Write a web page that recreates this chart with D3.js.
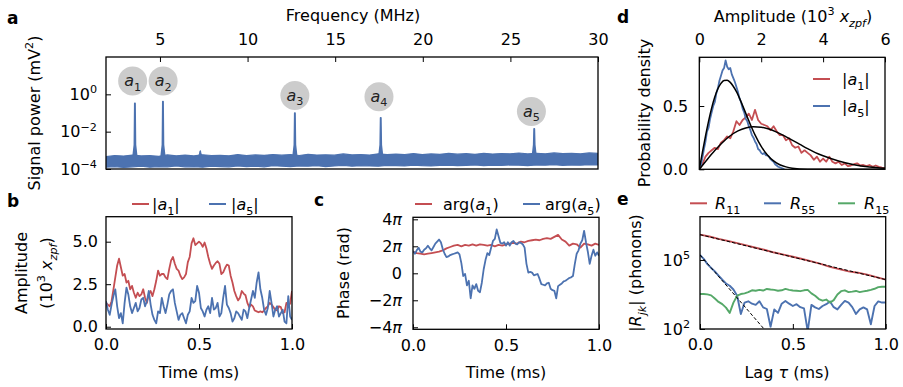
<!DOCTYPE html>
<html><head><meta charset="utf-8">
<script src="https://cdn.jsdelivr.net/npm/d3@7"></script>
<style>body{margin:0;background:#fff} text{font-family:"DejaVu Sans",sans-serif;}</style>
</head><body>
<svg id="fig" width="903" height="387" xmlns="http://www.w3.org/2000/svg"></svg>
<script>
// ---------------- DATA ----------------
// Panel a: spectrum
const freqTicks = [5, 10, 15, 20, 25, 30];
const noiseUpper = [4.6e-4,5.3e-4,4.9e-4,5.6e-4,5.0e-4,5.2e-4,4.8e-4,5.7e-4,5.1e-4,5.5e-4,
 5.0e-4,5.8e-4,5.3e-4,5.4e-4,5.1e-4,5.9e-4,5.2e-4,5.7e-4,5.4e-4,6.0e-4,
 5.5e-4,5.9e-4,5.3e-4,6.1e-4,5.6e-4,5.8e-4,5.5e-4,6.4e-4,5.7e-4,6.0e-4,
 5.6e-4,6.5e-4,5.9e-4,6.2e-4,6.0e-4,6.7e-4,5.9e-4,6.4e-4,6.1e-4,6.8e-4,
 6.2e-4,6.6e-4,6.1e-4,7.0e-4,6.3e-4,6.7e-4,6.5e-4,7.2e-4,6.4e-4,6.9e-4,
 6.5e-4,7.3e-4,6.6e-4,7.0e-4,6.5e-4,7.3e-4,6.8e-4];
const noiseLower = [1.25e-4,1.35e-4,1.2e-4,1.3e-4,1.4e-4,1.25e-4,1.35e-4,1.3e-4,1.45e-4,1.3e-4,
 1.35e-4,1.25e-4,1.4e-4,1.35e-4,1.3e-4,1.45e-4,1.35e-4,1.4e-4,1.3e-4,1.5e-4,
 1.4e-4,1.35e-4,1.45e-4,1.4e-4,1.5e-4,1.35e-4,1.45e-4,1.55e-4,1.4e-4,1.5e-4,
 1.45e-4,1.4e-4,1.55e-4,1.5e-4,1.45e-4,1.6e-4,1.5e-4,1.45e-4,1.55e-4,1.6e-4,
 1.5e-4,1.55e-4,1.65e-4,1.5e-4,1.6e-4,1.55e-4,1.65e-4,1.6e-4,1.5e-4,1.65e-4,
 1.6e-4,1.7e-4,1.55e-4,1.65e-4,1.6e-4,1.7e-4,1.65e-4];
const peakNames = ["1", "2", "3", "4", "5"];
const peakFreq = [3.57, 5.17, 12.7, 17.6, 26.36];
const peakPower = [0.33, 0.41, 0.10, 0.055, 0.0145];
const spurFreq = [7.3];
const spurPower = [9.5e-4];
const bubbleFreq = [3.44, 5.18, 12.7, 17.5, 26.2];
const bubblePower = [5.2, 5.2, 0.86, 0.75, 0.12];

// Panel b: amplitudes vs time (ms), 10^3 x_zpf
const ampA1 = [1.4,1.3,1.2,1.5,2.2,2.9,3.6,4.0,3.5,3.0,
 3.1,2.6,2.7,2.2,2.4,2.0,1.7,2.0,1.8,1.9,
 2.2,1.7,1.4,1.9,2.1,1.8,2.2,2.7,3.3,3.0,
 3.1,3.1,2.9,2.8,3.4,3.9,4.1,3.7,3.4,3.3,
 3.0,2.8,2.9,3.1,3.8,4.1,4.9,5.2,4.8,4.9,
 5.0,4.9,4.7,4.95,4.6,4.1,3.7,3.4,3.6,3.75,
 3.85,3.7,3.1,3.2,3.45,3.65,3.6,3.0,2.6,2.1,
 1.8,1.55,1.7,2.1,1.95,1.85,1.4,1.15,1.3,1.2,
 0.95,0.9,0.85,0.9,0.85,0.95,1.1,1.2,1.4,1.3,
 1.15,1.0,0.95,1.2,1.15,0.8,0.85,1.4,1.3,1.35,
 2.1];
const ampA5 = [1.5,1.0,0.7,1.3,1.8,2.2,1.2,0.5,0.8,0.2,
 1.4,2.3,1.9,1.2,0.8,1.1,1.4,0.9,1.1,1.6,
 1.7,1.2,1.5,2.1,1.3,0.7,0.4,0.2,0.9,0.8,
 1.7,1.2,0.8,1.3,1.9,2.1,2.2,1.4,0.9,0.4,
 0.7,0.8,0.5,0.2,0.7,0.9,1.7,1.4,1.5,2.4,
 2.0,1.1,0.9,0.6,1.0,1.2,0.8,1.7,1.0,1.1,
 1.4,0.6,0.8,1.7,2.4,1.3,1.1,0.8,0.3,0.5,
 0.9,0.8,0.6,0.4,1.0,0.9,0.5,1.1,1.6,2.1,
 1.7,2.6,3.2,2.2,1.7,1.0,0.7,1.1,2.1,1.4,
 0.6,1.0,1.2,0.6,0.8,1.0,0.3,0.2,1.8,0.6,
 0.4];

// Panel c: phases (units of pi)
const phaseA1 = [1.6,1.5,1.45,1.4,1.45,1.5,1.55,1.6,1.7,1.85,
 1.95,2.05,2.1,2.0,2.1,2.05,2.15,2.05,2.15,2.1,
 2.05,2.1,2.0,2.1,2.05,2.15,2.2,2.25,2.2,2.35,
 2.3,2.4,2.45,2.5,2.45,2.55,2.6,2.55,2.7,2.85,
 2.5,2.35,2.05,2.2,2.15,1.9,2.2,2.15,2.05,2.2,
 2.1];
const phaseA5 = [1.65,1.45,1.7,1.9,1.6,1.55,1.75,1.85,2.05,1.85,
 1.7,1.95,2.2,2.35,2.5,2.3,1.8,1.45,1.2,1.25,
 1.35,1.4,1.45,1.5,1.55,1.4,0.75,-0.2,-0.05,-0.9,
 -0.55,-1.85,-0.9,-1.15,-0.8,-1.3,-1.4,-0.7,0.3,1.0,
 1.5,1.35,1.9,2.4,2.55,3.25,2.75,2.25,2.2,2.3,
 2.05,2.3,2.05,2.3,2.4,2.2,2.15,2.3,2.25,2.15,
 1.9,0.7,0.05,0.1,0.05,-0.15,-0.1,-0.05,-0.4,-0.8,
 -0.85,-0.9,-0.75,-0.7,-1.15,-1.25,-1.3,-1.85,-0.95,-0.85,
 -0.75,-0.6,-0.55,-0.45,-0.35,-0.3,-0.2,0.7,1.45,1.7,
 2.2,2.45,3.15,2.3,1.6,0.7,1.3,1.75,1.3,1.55,
 1.3];
const phaseTicks = [-4, -2, 0, 2, 4];

// Panel d: probability densities
const histA1 = [0.0,0.04,0.1,0.13,0.15,0.17,0.16,0.21,0.23,0.26,
 0.245,0.3,0.38,0.35,0.39,0.41,0.44,0.39,0.47,0.39,
 0.36,0.35,0.34,0.31,0.34,0.30,0.27,0.27,0.23,0.245,
 0.19,0.17,0.18,0.13,0.15,0.13,0.11,0.075,0.10,0.06,
 0.085,0.06,0.10,0.06,0.047,0.06,0.034,0.047,0.025,0.03,
 0.04,0.047,0.03,0.034,0.025,0.034,0.02,0.03,0.02,0.013,
 0.01];
const histA5 = [0,0.03,0.09,0.16,0.22,0.30,0.33,0.40,0.45,0.50,
 0.53,0.60,0.64,0.70,0.74,0.78,0.80,0.86,0.81,0.79,
 0.80,0.75,0.72,0.69,0.65,0.61,0.56,0.53,0.48,0.45,
 0.40,0.38,0.34,0.31,0.27,0.25,0.22,0.20,0.16,0.15,
 0.13,0.12,0.13,0.11,0.11,0.10,0.08,0.07,0.06,0.04,
 0.03,0.02,0.015,0.01,0.005,0];
const fitAmpA1 = [0,0.25,0.5,0.75,1.0,1.25,1.5,1.75,2.0,2.25,2.5,2.75,3.0,3.25,3.5,3.75,4.0,4.5,5.0,5.5,6.0];
const fitDensA1 = [0,0.076,0.148,0.212,0.265,0.303,0.327,0.337,0.333,0.318,0.294,0.264,0.231,0.197,0.163,0.132,0.107,0.066,0.036,0.018,0.008];
const fitAmpA5 = [0,0.1,0.2,0.3,0.4,0.5,0.6,0.7,0.8,0.9,1.0,1.2,1.4,1.6,1.8,2.0,2.2,2.4,2.6,2.8,3.0,3.5,4.0,5.0,6.0];
const fitDensA5 = [0,0.134,0.263,0.381,0.485,0.571,0.636,0.679,0.702,0.703,0.687,0.613,0.503,0.383,0.272,0.181,0.113,0.066,0.036,0.019,0.009,0.001,0,0,0];

// Panel e: correlations (phonons) vs lag (ms)
const corrR11 = [1.26e6,1.05e6,8.3e5,6.8e5,5.4e5,4.3e5,3.4e5,2.7e5,2.1e5,1.7e5,
 1.38e5,1.1e5,8.7e4,6.8e4,5.0e4,4.0e4,3.2e4,2.8e4,2.3e4,1.8e4,1.4e4];
const corrR55 = [1.66e5,1.12e5,6.6e4,4.5e4,3.2e4,2.1e4,1.4e4,9.5e3,7.6e3,5.2e3,
 2.8e3,450,1.4e3,1.6e3,1.26e3,1.12e3,1.6e3,870,740,126,
 710,500,1260,1660,1260,1000,1200,890,790,80,
 1120,870,740,1000,1200,1580,890,710,1120,1660,
 1410,890,450,710,870,710,160,1000,1580,1410,
 1410];
const corrR15 = [3300,3300,3200,2900,2100,1500,1200,850,500,1400,
 2800,3300,3550,4000,4800,4600,5000,4700,5500,5200,
 5000,4600,4800,5500,5000,4700,4600,4400,4800,5000,
 3550,2800,2000,1700,1900,1400,1800,3160,4400,4800,
 4000,4200,4500,4000,4300,4600,5000,5600,6600,6900,
 6900];
const fitLag11 = [0, 1.0];
const fitR11 = [1.26e6, 1.4e4];
const fitLag55 = [0, 0.345];
const fitR55 = [1.66e5, 100];

// ---------------- DRAW ----------------
const RED = "#c44e52", BLUE = "#4c72b0", GREEN = "#55a868";
const FS = 16;
const svg = d3.select("#fig");

function rich(t, parts, fs) {
  let shift = 0;
  parts.forEach(p => {
    const ts = t.append("tspan").text(p.t);
    const target = p.sub ? fs * 0.3 : (p.sup ? -fs * 0.42 : 0);
    const dy = target - shift;
    if (dy !== 0) ts.attr("dy", dy);
    shift = target;
    if (p.sub || p.sup) ts.attr("font-size", fs * 0.7);
    if (p.it) ts.attr("font-style", "italic");
  });
}
function addText(x, y, parts, opts = {}) {
  const t = svg.append("text").attr("x", x).attr("y", y)
    .attr("font-size", opts.fs || FS).attr("fill", opts.fill || "#000")
    .attr("text-anchor", opts.anchor || "start");
  if (opts.rot) t.attr("transform", `rotate(-90,${x},${y})`);
  if (opts.bold) t.attr("font-weight", "bold");
  rich(t, parts, opts.fs || FS);
  return t;
}
function clip(id, x0, y0, x1, y1) {
  svg.append("clipPath").attr("id", id).append("rect")
    .attr("x", x0).attr("y", y0).attr("width", x1 - x0).attr("height", y1 - y0);
}
function frame(x0, y0, x1, y1) {
  svg.append("rect").attr("x", x0).attr("y", y0).attr("width", x1 - x0).attr("height", y1 - y0)
    .attr("fill", "none").attr("stroke", "#000").attr("stroke-width", 1.3);
}
function styleAxis(g) {
  g.select(".domain").remove();
  g.attr("font-size", FS).attr("font-family", "DejaVu Sans");
  g.selectAll("line").attr("stroke", "#000").attr("stroke-width", 1);
}
function richTicks(g, fn) {
  g.selectAll(".tick text").each(function (d) {
    const t = d3.select(this).text(null);
    rich(t, fn(d), FS);
  });
}
function legendLine(x0, x1, y, color) {
  svg.append("line").attr("x1", x0).attr("x2", x1).attr("y1", y).attr("y2", y)
    .attr("stroke", color).attr("stroke-width", 2);
}
const exp10 = d => [{ t: "10" }, { t: String(Math.round(Math.log10(d))).replace("-", "\u2212"), sup: true }];

// ===== Panel a =====
const ax0 = 106, ax1 = 598, ay0 = 57, ay1 = 169;
const xA = d3.scaleLinear().domain([1.92, 30]).range([ax0, ax1]);
const yA = d3.scaleLog().domain([1e-4, 1e2]).range([ay1, ay0]);
clip("clipA", ax0, ay0, ax1, ay1);
const gA = svg.append("g").attr("clip-path", "url(#clipA)");
const nFreq = noiseUpper.map((_, i) => 1.92 + i * (30 - 1.92) / (noiseUpper.length - 1));
gA.append("path")
  .attr("d", d3.area().x((d, i) => xA(nFreq[i])).y0((d, i) => yA(noiseLower[i])).y1(d => yA(d))(noiseUpper))
  .attr("fill", BLUE).attr("stroke", BLUE).attr("stroke-width", 1.2).attr("stroke-linejoin", "round");
function spike(f, p, w) {
  const sh = Math.min(2e-3, p * 0.75);
  const pts = [[f - 0.11, 4.5e-4], [f - 0.035, sh], [f - 0.012, p], [f + 0.012, p], [f + 0.035, sh], [f + 0.11, 4.5e-4]];
  gA.append("path").attr("d", d3.line().x(d => xA(d[0])).y(d => yA(d[1]))(pts) + "Z")
    .attr("fill", BLUE).attr("stroke", BLUE).attr("stroke-width", w).attr("stroke-linejoin", "round");
}
peakFreq.forEach((f, i) => spike(f, peakPower[i], 1.5));
spurFreq.forEach((f, i) => spike(f, spurPower[i], 1));
bubbleFreq.forEach((f, i) => {
  const cx = xA(f), cy = yA(bubblePower[i]);
  svg.append("circle").attr("cx", cx).attr("cy", cy).attr("r", 14.5).attr("fill", "#cccccc");
  addText(cx, cy + 5, [{ t: "a", it: true }, { t: peakNames[i], sub: true }], { anchor: "middle", fill: "#222" });
});
frame(ax0, ay0, ax1, ay1);
svg.append("g").attr("transform", `translate(0,${ay0})`)
  .call(d3.axisTop(xA).tickValues(freqTicks).tickSize(-5).tickSizeOuter(0).tickPadding(12)).call(styleAxis);
svg.append("g").attr("transform", `translate(${ax0},0)`)
  .call(d3.axisLeft(yA).tickValues([1e-4, 1e-2, 1]).tickSize(-5).tickSizeOuter(0).tickPadding(9).tickFormat(""))
  .call(styleAxis).call(g => richTicks(g, exp10));
addText(353, 21, [{ t: "Frequency (MHz)" }], { anchor: "middle" });
addText(40, 113, [{ t: "Signal power (mV" }, { t: "2", sup: true }, { t: ")" }], { anchor: "middle", rot: true });
addText(7, 24, [{ t: "a" }], { bold: true, fs: 17 });

// ===== Panel b =====
const bx0 = 106, bx1 = 292, by0 = 216.7, by1 = 329;
const xB = d3.scaleLinear().domain([0, 1]).range([bx0, bx1]);
const yB = d3.scaleLinear().domain([-0.135, 6.47]).range([by1, by0]);
clip("clipB", bx0, by0, bx1, by1);
const gB = svg.append("g").attr("clip-path", "url(#clipB)");
const tB = ampA1.map((_, i) => i / (ampA1.length - 1));
[[ampA1, RED], [ampA5, BLUE]].forEach(([arr, c]) => {
  gB.append("path").attr("d", d3.line().x((d, i) => xB(tB[i])).y(d => yB(d))(arr))
    .attr("fill", "none").attr("stroke", c).attr("stroke-width", 1.8).attr("stroke-linejoin", "round");
});
frame(bx0, by0, bx1, by1);
svg.append("g").attr("transform", `translate(0,${by1})`)
  .call(d3.axisBottom(xB).tickValues([0, 0.5, 1]).tickFormat(d3.format(".1f")).tickSize(-5).tickSizeOuter(0).tickPadding(10)).call(styleAxis);
svg.append("g").attr("transform", `translate(${bx0},0)`)
  .call(d3.axisLeft(yB).tickValues([0, 2.5, 5]).tickFormat(d3.format(".1f")).tickSize(-5).tickSizeOuter(0).tickPadding(8)).call(styleAxis);
addText(199, 378, [{ t: "Time (ms)" }], { anchor: "middle" });
addText(27, 273, [{ t: "Amplitude" }], { anchor: "middle", rot: true });
addText(52, 273, [{ t: "(10" }, { t: "3", sup: true }, { t: " " }, { t: "x", it: true }, { t: "zpf", sub: true, it: true }, { t: ")" }], { anchor: "middle", rot: true });
legendLine(132, 149, 204, RED);
addText(152, 210, [{ t: "|" }, { t: "a", it: true }, { t: "1", sub: true }, { t: "|" }]);
legendLine(209, 226, 204, BLUE);
addText(231, 210, [{ t: "|" }, { t: "a", it: true }, { t: "5", sub: true }, { t: "|" }]);
addText(7, 207, [{ t: "b" }], { bold: true, fs: 17 });

// ===== Panel c =====
const cx0 = 413, cx1 = 599, cy0 = 217.3, cy1 = 329.3;
const xC = d3.scaleLinear().domain([0, 1]).range([cx0, cx1]);
const yC = d3.scaleLinear().domain([-4.15, 4.15]).range([cy1, cy0]);
clip("clipC", cx0, cy0, cx1, cy1);
const gC = svg.append("g").attr("clip-path", "url(#clipC)");
[[phaseA1, RED], [phaseA5, BLUE]].forEach(([arr, c]) => {
  const tt = arr.map((_, i) => i / (arr.length - 1));
  gC.append("path").attr("d", d3.line().x((d, i) => xC(tt[i])).y(d => yC(d))(arr))
    .attr("fill", "none").attr("stroke", c).attr("stroke-width", 1.8).attr("stroke-linejoin", "round");
});
frame(cx0, cy0, cx1, cy1);
svg.append("g").attr("transform", `translate(0,${cy1})`)
  .call(d3.axisBottom(xC).tickValues([0, 0.5, 1]).tickFormat(d3.format(".1f")).tickSize(-5).tickSizeOuter(0).tickPadding(10)).call(styleAxis);
svg.append("g").attr("transform", `translate(${cx0},0)`)
  .call(d3.axisLeft(yC).tickValues(phaseTicks).tickSize(-5).tickSizeOuter(0).tickPadding(11).tickFormat(""))
  .call(styleAxis).call(g => richTicks(g, d => d === 0 ? [{ t: "0" }] : [{ t: (d < 0 ? "\u2212" : "") + Math.abs(d) }, { t: "\u03c0", it: true }]));
addText(506, 378, [{ t: "Time (ms)" }], { anchor: "middle" });
addText(349, 273, [{ t: "Phase (rad)" }], { anchor: "middle", rot: true });
legendLine(415, 432, 204, RED);
addText(443, 210, [{ t: "arg(" }, { t: "a", it: true }, { t: "1", sub: true }, { t: ")" }]);
legendLine(523, 540, 204, BLUE);
addText(545, 210, [{ t: "arg(" }, { t: "a", it: true }, { t: "5", sub: true }, { t: ")" }]);
addText(314, 206, [{ t: "c" }], { bold: true, fs: 17 });

// ===== Panel d =====
const dx0 = 699.3, dx1 = 885, dy0 = 57.3, dy1 = 169.3;
const xD = d3.scaleLinear().domain([0, 6]).range([dx0, dx1]);
const yD = d3.scaleLinear().domain([0, 0.885]).range([dy1, dy0]);
clip("clipD", dx0, dy0, dx1, dy1);
const gD = svg.append("g").attr("clip-path", "url(#clipD)");
gD.append("path").attr("d", d3.line().x((d, i) => xD(i * 0.1)).y(d => yD(d))(histA1))
  .attr("fill", "none").attr("stroke", RED).attr("stroke-width", 1.8).attr("stroke-linejoin", "round");
gD.append("path").attr("d", d3.line().x((d, i) => xD(i * 0.05)).y(d => yD(d))(histA5))
  .attr("fill", "none").attr("stroke", BLUE).attr("stroke-width", 1.8).attr("stroke-linejoin", "round");
gD.append("path").attr("d", d3.line().curve(d3.curveMonotoneX).x((d, i) => xD(fitAmpA1[i])).y(d => yD(d))(fitDensA1))
  .attr("fill", "none").attr("stroke", "#000").attr("stroke-width", 1.5);
gD.append("path").attr("d", d3.line().curve(d3.curveMonotoneX).x((d, i) => xD(fitAmpA5[i])).y(d => yD(d))(fitDensA5))
  .attr("fill", "none").attr("stroke", "#000").attr("stroke-width", 1.5);
frame(dx0, dy0, dx1, dy1);
svg.append("g").attr("transform", `translate(0,${dy0})`)
  .call(d3.axisTop(xD).tickValues([0, 2, 4, 6]).tickFormat(d3.format("d")).tickSize(-5).tickSizeOuter(0).tickPadding(12)).call(styleAxis);
svg.append("g").attr("transform", `translate(${dx0},0)`)
  .call(d3.axisLeft(yD).tickValues([0, 0.5]).tickFormat(d3.format(".1f")).tickSize(-5).tickSizeOuter(0).tickPadding(11)).call(styleAxis);
addText(793, 22, [{ t: "Amplitude (10" }, { t: "3", sup: true }, { t: " " }, { t: "x", it: true }, { t: "zpf", sub: true, it: true }, { t: ")" }], { anchor: "middle" });
addText(650, 113, [{ t: "Probability density" }], { anchor: "middle", rot: true });
legendLine(813, 830, 79, RED);
addText(842, 85, [{ t: "|" }, { t: "a", it: true }, { t: "1", sub: true }, { t: "|" }]);
legendLine(813, 830, 106, BLUE);
addText(842, 112, [{ t: "|" }, { t: "a", it: true }, { t: "5", sub: true }, { t: "|" }]);
addText(617, 23, [{ t: "d" }], { bold: true, fs: 17 });

// ===== Panel e =====
const ex0 = 700, ex1 = 885.7, ey0 = 216.7, ey1 = 329;
const xE = d3.scaleLinear().domain([0, 1]).range([ex0, ex1]);
const yE = d3.scaleLog().domain([100, Math.pow(10, 6.88)]).range([ey1, ey0]);
clip("clipE", ex0, ey0, ex1, ey1);
const gE = svg.append("g").attr("clip-path", "url(#clipE)");
[[corrR11, RED], [corrR55, BLUE], [corrR15, GREEN]].forEach(([arr, c]) => {
  const tt = arr.map((_, i) => i / (arr.length - 1));
  gE.append("path").attr("d", d3.line().x((d, i) => xE(tt[i])).y(d => yE(d))(arr))
    .attr("fill", "none").attr("stroke", c).attr("stroke-width", 1.9).attr("stroke-linejoin", "round");
});
[[fitLag11, fitR11], [fitLag55, fitR55]].forEach(([lx, ly]) => {
  gE.append("path").attr("d", d3.line().x((d, i) => xE(lx[i])).y(d => yE(d))(ly))
    .attr("fill", "none").attr("stroke", "#000").attr("stroke-width", 1).attr("stroke-dasharray", "3.5,2");
});
frame(ex0, ey0, ex1, ey1);
svg.append("g").attr("transform", `translate(0,${ey1})`)
  .call(d3.axisBottom(xE).tickValues([0, 0.5, 1]).tickFormat(d3.format(".1f")).tickSize(-5).tickSizeOuter(0).tickPadding(10)).call(styleAxis);
svg.append("g").attr("transform", `translate(${ex0},0)`)
  .call(d3.axisLeft(yE).tickValues([1e2, 1e5]).tickSize(-5).tickSizeOuter(0).tickPadding(10).tickFormat(""))
  .call(styleAxis).call(g => richTicks(g, exp10));
addText(787, 378, [{ t: "Lag " }, { t: "\u03c4", it: true }, { t: " (ms)" }], { anchor: "middle" });
addText(641, 273, [{ t: "|" }, { t: "R", it: true }, { t: "jk", sub: true, it: true }, { t: "| (phonons)" }], { anchor: "middle", rot: true });
legendLine(690, 707, 203.3, RED);
addText(715, 209, [{ t: "R", it: true }, { t: "11", sub: true }]);
legendLine(764, 781, 203.3, BLUE);
addText(790, 209, [{ t: "R", it: true }, { t: "55", sub: true }]);
legendLine(838, 855, 203.3, GREEN);
addText(864, 209, [{ t: "R", it: true }, { t: "15", sub: true }]);
addText(617, 205, [{ t: "e" }], { bold: true, fs: 17 });
</script>
</body></html>
